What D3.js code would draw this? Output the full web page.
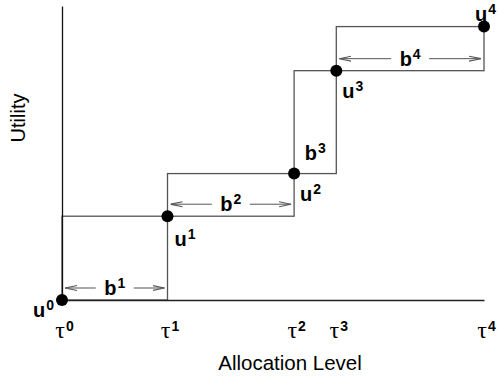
<!DOCTYPE html>
<html>
<head>
<meta charset="utf-8">
<script src="https://cdn.jsdelivr.net/npm/d3@7"></script>
<style>
  body { margin: 0; background: #fff; }
  svg { display: block; font-family: "Liberation Sans", Arial, sans-serif; }
</style>
</head>
<body>
<svg id="chart" width="498" height="377"></svg>
<script>
// allocation levels (tau) and utility values at each step
const tauNames = ["0", "1", "2", "3", "4"];
const tauValues = [0, 1, 2.2, 2.6, 4];
const utilityValues = [0, 2.85, 4.3, 7.8, 9.3];
const bNames = ["1", "2", "3", "4"];
const bArrow = [true, true, false, true];

const width = 498, height = 377;
const margin = { left: 62, right: 14, top: 6, bottom: 77 };

const svg = d3.select("#chart");

const x = d3.scaleLinear().domain([0, 4]).range([margin.left, width - margin.right]);
const y = d3.scaleLinear().domain([0, 10]).range([height - margin.bottom, margin.top]);

const points = tauValues.map((t, i) => ({ t: t, u: utilityValues[i], i: i }));

// text with a superscript
function supLabel(parent, px, py, base, sup, anchor, serif) {
    const t = parent.append("text")
        .attr("x", px).attr("y", py)
        .attr("text-anchor", anchor)
        .attr("fill", "#000")
        .style("font-weight", "bold");
    const b = t.append("tspan").text(base).style("font-size", "20px");
    if (serif) b.style("font-family", "'Liberation Serif', 'Times New Roman', serif")
        .style("font-size", "24px").style("font-weight", "normal");
    t.append("tspan").attr("dy", -7).attr("dx", 1).style("font-size", "14px").text(sup);
    return t;
}

// arrow marker
svg.append("defs").append("marker")
    .attr("id", "arr")
    .attr("viewBox", "0 0 12 10")
    .attr("refX", 12).attr("refY", 5)
    .attr("markerWidth", 12).attr("markerHeight", 10)
    .attr("markerUnits", "userSpaceOnUse")
    .attr("orient", "auto-start-reverse")
    .append("path")
    .attr("d", "M0,2.5 L12,5 L0,7.5")
    .attr("fill", "none")
    .attr("stroke", "#555")
    .attr("stroke-width", 1.1);

// step boxes between consecutive points
const boxes = points.slice(1).map((p, k) => ({ a: points[k], b: p, k: k }));

svg.append("g").selectAll("rect")
    .data(boxes)
    .enter().append("rect")
    .attr("x", d => x(d.a.t))
    .attr("y", d => y(d.b.u))
    .attr("width", d => x(d.b.t) - x(d.a.t))
    .attr("height", d => y(d.a.u) - y(d.b.u))
    .attr("fill", "none")
    .attr("stroke", "#555")
    .attr("stroke-width", 1.3);

// axes
const xAxis = d3.axisBottom(x)
    .tickValues(tauValues)
    .tickSize(0)
    .tickSizeOuter(0)
    .tickFormat("");
const gx = svg.append("g")
    .attr("transform", "translate(0," + y(0) + ")")
    .call(xAxis);
gx.select(".domain").attr("stroke", "#222").attr("stroke-width", 1.3);

gx.selectAll(".tick").each(function (d, i) {
    supLabel(d3.select(this), 2, 38, "τ", tauNames[i], "middle", true);
});

const yAxis = d3.axisLeft(y).tickValues([]).tickSizeOuter(0);
const gy = svg.append("g")
    .attr("transform", "translate(" + x(0) + ",0)")
    .call(yAxis);
gy.select(".domain").attr("stroke", "#111").attr("stroke-width", 1.3);

// b arrows
boxes.forEach((d, k) => {
    const x0 = x(d.a.t), x1 = x(d.b.t);
    const mid = (x0 + x1) / 2;
    const ay = y(d.a.u) - 12;
    if (bArrow[k]) {
        svg.append("line")
            .attr("x1", mid - 19).attr("x2", x0 + 3)
            .attr("y1", ay).attr("y2", ay)
            .attr("stroke", "#555").attr("stroke-width", 1)
            .attr("marker-end", "url(#arr)");
        svg.append("line")
            .attr("x1", mid + 19).attr("x2", x1 - 3)
            .attr("y1", ay).attr("y2", ay)
            .attr("stroke", "#555").attr("stroke-width", 1)
            .attr("marker-end", "url(#arr)");
    }
    supLabel(svg, mid, bArrow[k] ? ay + 7 : ay - 2, "b", bNames[k], "middle");
});

// points
svg.append("g").selectAll("circle")
    .data(points)
    .enter().append("circle")
    .attr("cx", d => x(d.t))
    .attr("cy", d => y(d.u))
    .attr("r", 6)
    .attr("fill", "#000");

// u labels
const uOffsets = [
    { dx: -8, dy: 17, anchor: "end" },
    { dx: 7, dy: 30, anchor: "start" },
    { dx: 6, dy: 27, anchor: "start" },
    { dx: 6, dy: 27, anchor: "start" },
    { dx: 12, dy: -6, anchor: "end" }
];
points.forEach((p, i) => {
    const o = uOffsets[i];
    supLabel(svg, x(p.t) + o.dx, y(p.u) + o.dy, "u", tauNames[i], o.anchor);
});

// axis titles
svg.append("text")
    .attr("x", (x(0) + x(4)) / 2 + 17)
    .attr("y", 370)
    .attr("text-anchor", "middle")
    .style("font-size", "20.5px")
    .text("Allocation Level");

svg.append("text")
    .attr("transform", "translate(25,118) rotate(-90)")
    .attr("text-anchor", "middle")
    .style("font-size", "20px")
    .text("Utility");
</script>
</body>
</html>
